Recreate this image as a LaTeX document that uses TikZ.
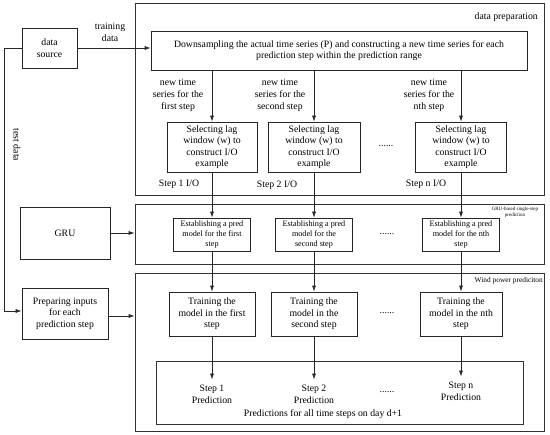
\documentclass[tikz,border=0pt]{standalone}
\usepackage{fontspec}
\setmainfont{Liberation Serif}
\usetikzlibrary{arrows.meta}
\begin{document}
\begin{tikzpicture}[x=1bp,y=-1bp,
  frame/.style={draw=black!80,line width=0.7bp,inner sep=0pt},
  box/.style={draw=black!85,line width=0.7bp,inner sep=0pt,align=center,font=\fontsize{9.8}{11.5}\selectfont},
  ebox/.style={box,font=\fontsize{8.2}{10}\selectfont},
  arr/.style={-{Latex[length=6bp,width=4bp]},line width=0.7bp,draw=black!85},
  lbl/.style={align=center,inner sep=0pt,font=\fontsize{9.8}{12}\selectfont},
  tinylbl/.style={align=center,inner sep=0pt,font=\fontsize{5}{6}\selectfont},
  sidelbl/.style={align=center,inner sep=0pt,font=\fontsize{7.4}{8}\selectfont}]
\useasboundingbox (0,0) rectangle (550,435);
% outer frames
\node[frame,minimum width=409bp,minimum height=192bp] (dp) at (339.5,99) {};
\node[frame,minimum width=409bp,minimum height=60bp] (gb) at (339.5,234) {};
\node[frame,minimum width=409bp,minimum height=158bp] (wp) at (339.5,352) {};
\node[frame,minimum width=367bp,minimum height=63bp] (pb) at (339.5,392.5) {};
% frame labels
\node[lbl,anchor=east] (dpl) at (538,17) {data preparation};
\node[tinylbl] (gbl) at (515,212) {GRU-based single-step\\prediction};
\node[sidelbl,anchor=east] (wpl) at (543,281) {Wind power prediciton};
% left column
\node[box,minimum width=55bp,minimum height=40bp] (ds) at (49.5,48) {data\\source};
\node[box,minimum width=90bp,minimum height=52bp] (gru) at (65,233) {GRU};
\node[box,minimum width=86bp,minimum height=51bp] (pin) at (65,313.5) {Preparing inputs\\for each\\prediction step};
% data preparation
\node[box,minimum width=376bp,minimum height=39bp] (dn) at (339,50.5) {Downsampling the actual time series (P) and constructing a new time series for each\\prediction step within the prediction range};
\node[box,minimum width=90bp,minimum height=50bp] (s1) at (212,147) {Selecting lag\\window (w) to\\construct I/O\\example};
\node[box,minimum width=92bp,minimum height=50bp] (s2) at (314,147) {Selecting lag\\window (w) to\\construct I/O\\example};
\node[box,minimum width=91bp,minimum height=50bp] (s3) at (461,147) {Selecting lag\\window (w) to\\construct I/O\\example};
\node[lbl] (n1) at (178,95) {new time\\series for the\\first step};
\node[lbl] (n2) at (280,95) {new time\\series for the\\second step};
\node[lbl] (n3) at (429,95) {new time\\series for the\\nth step};
\node[lbl] (io1) at (179,184) {Step 1 I/O};
\node[lbl] (io2) at (277,185) {Step 2 I/O};
\node[lbl] (io3) at (426,184) {Step n I/O};
\node[lbl] (dots1) at (386,146) {......};
% GRU-based
\node[ebox,minimum width=77bp,minimum height=33bp] (e1) at (212,234.5) {Establishing a pred\\model for the first\\step};
\node[ebox,minimum width=77bp,minimum height=33bp] (e2) at (314,234.5) {Establishing a pred\\model for the\\second step};
\node[ebox,minimum width=77bp,minimum height=33bp] (e3) at (461,234.5) {Establishing a pred\\model for the nth\\step};
\node[lbl] (dots2) at (387,234) {......};
% wind power
\node[box,minimum width=86bp,minimum height=44bp] (t1) at (212,314) {Training the\\model in the first\\step};
\node[box,minimum width=86bp,minimum height=44bp] (t2) at (314,314) {Training the\\model in the\\second step};
\node[box,minimum width=82bp,minimum height=44bp] (t3) at (461,314) {Training the\\model in the nth\\step};
\node[lbl] (dots3) at (387,313) {......};
\node[lbl] (o1) at (212,394) {Step 1\\Prediction};
\node[lbl] (o2) at (314,394) {Step 2\\Prediction};
\node[lbl] (o3) at (461,391) {Step n\\Prediction};
\node[lbl] (dots4) at (387,392) {......};
\node[lbl] (all) at (323,414) {Predictions for all time steps on day d+1};
% side labels
\node[lbl] (trl) at (110,32) {training\\data};
\node[lbl,rotate=-90] (tel) at (17,145) {test data};
% connectors
\draw[arr] (ds.east) -- (ds.east -| dn.west);
\draw[arr] (ds.west) -- ++(-17,0) |- ([yshift=2.5bp]pin.west);
\draw[arr] (gru.east) -- (gru.east -| gb.west);
\draw[arr] ([yshift=-2.5bp]pin.east) -- ([yshift=-2.5bp]pin.east -| wp.west);
\foreach \i in {1,2,3}{
  \draw[arr] (s\i |- dn.south) -- (s\i.north);
  \draw[arr] (s\i.south) -- (e\i.north);
  \draw[arr] (e\i.south) -- (t\i.north);
  \draw[arr] (t\i.south) -- ([yshift=5bp]o\i.north);
}
\end{tikzpicture}
\end{document}
